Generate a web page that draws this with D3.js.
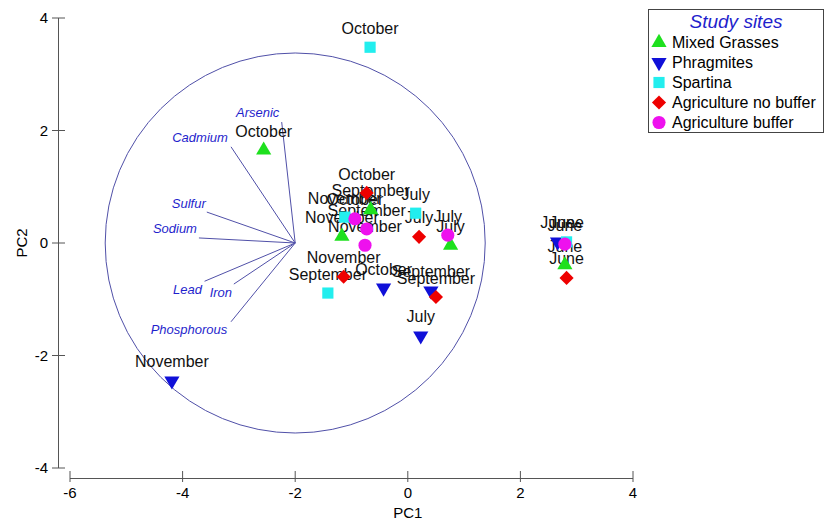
<!DOCTYPE html>
<meta charset="utf-8">
<script src="https://d3js.org/d3.v7.min.js"></script>
<style>
  body { margin: 0; background: #fff; }
  text { font-family: "Liberation Sans", Arial, sans-serif; }
</style>
<div id="my_dataviz"></div>
<script>

// PCA scores, one array per study site
var mixedGrasses = [
  {month: "October",   pc1: -2.56, pc2:  1.65},
  {month: "November",  pc1: -1.17, pc2:  0.12},
  {month: "September", pc1: -0.66, pc2:  0.59},
  {month: "July",      pc1:  0.76, pc2: -0.04},
  {month: "June",      pc1:  2.79, pc2: -0.39}
];
var phragmites = [
  {month: "November",  pc1: -4.19, pc2: -2.45},
  {month: "October",   pc1: -0.43, pc2: -0.80},
  {month: "September", pc1:  0.41, pc2: -0.85},
  {month: "July",      pc1:  0.23, pc2: -1.65},
  {month: "June",      pc1:  2.66, pc2:  0.02}
];
var spartina = [
  {month: "October",   pc1: -0.67, pc2:  3.48},
  {month: "November",  pc1: -1.12, pc2:  0.46},
  {month: "September", pc1: -1.42, pc2: -0.89},
  {month: "July",      pc1:  0.14, pc2:  0.53},
  {month: "June",      pc1:  2.82, pc2:  0.02}
];
var agNoBuffer = [
  {month: "October",   pc1: -0.73, pc2:  0.89},
  {month: "November",  pc1: -1.14, pc2: -0.60},
  {month: "July",      pc1:  0.20, pc2:  0.11},
  {month: "September", pc1:  0.50, pc2: -0.96},
  {month: "June",      pc1:  2.82, pc2: -0.62}
];
var agBuffer = [
  {month: "October",   pc1: -0.94, pc2:  0.43},
  {month: "September", pc1: -0.73, pc2:  0.25},
  {month: "November",  pc1: -0.76, pc2: -0.04},
  {month: "July",      pc1:  0.71, pc2:  0.14},
  {month: "June",      pc1:  2.79, pc2: -0.02}
];

var siteNames = ["Mixed Grasses", "Phragmites", "Spartina", "Agriculture no buffer", "Agriculture buffer"];

// variable vectors (end points, drawn from the biplot origin)
var variables = ["Arsenic", "Cadmium", "Sulfur", "Sodium", "Lead", "Iron", "Phosphorous"];
var varPC1 = [-2.24, -3.14, -3.57, -3.71, -3.61, -3.09, -3.14];
var varPC2 = [ 2.15,  1.71,  0.55,  0.09, -0.68, -0.73, -1.40];
var vecOrigin = [-2, 0];
var circleRadius = 3.375;

var xTicks = [-6, -4, -2, 0, 2, 4];
var yTicks = [-4, -2, 0, 2, 4];

var svg = d3.select("#my_dataviz")
  .append("svg")
    .attr("width", 829)
    .attr("height", 523);

var x = d3.scaleLinear().domain([-6, 4]).range([70, 633]);
var y = d3.scaleLinear().domain([-4, 4]).range([468, 18]);

var axisColor = "#555";
var xAxisY = 478;

// Y axis
svg.append("line")
  .attr("x1", 58.5).attr("x2", 58.5)
  .attr("y1", y(4)).attr("y2", y(-4))
  .attr("stroke", axisColor);
svg.selectAll("ytick").data(yTicks).enter().append("line")
  .attr("x1", 52).attr("x2", 65)
  .attr("y1", function(d) { return y(d); })
  .attr("y2", function(d) { return y(d); })
  .attr("stroke", axisColor);
svg.selectAll("ylab").data(yTicks).enter().append("text")
  .attr("x", 48)
  .attr("y", function(d) { return y(d); })
  .attr("dy", "0.35em")
  .attr("text-anchor", "end")
  .style("font-size", "15px")
  .text(function(d) { return d; });

// X axis
svg.append("line")
  .attr("x1", x(-6)).attr("x2", x(4))
  .attr("y1", xAxisY + 0.5).attr("y2", xAxisY + 0.5)
  .attr("stroke", axisColor);
svg.selectAll("xtick").data(xTicks).enter().append("line")
  .attr("x1", function(d) { return x(d); })
  .attr("x2", function(d) { return x(d); })
  .attr("y1", xAxisY - 7).attr("y2", xAxisY + 4)
  .attr("stroke", axisColor);
svg.selectAll("xlab").data(xTicks).enter().append("text")
  .attr("x", function(d) { return x(d); })
  .attr("y", 493)
  .attr("dy", "0.35em")
  .attr("text-anchor", "middle")
  .style("font-size", "15px")
  .text(function(d) { return d; });

svg.append("text")
  .attr("x", x(0)).attr("y", 513).attr("dy", "0.35em")
  .attr("text-anchor", "middle")
  .style("font-size", "15px")
  .text("PC1");
svg.append("text")
  .attr("transform", "translate(22," + y(0) + ")rotate(-90)")
  .attr("dy", "0.35em")
  .attr("text-anchor", "middle")
  .style("font-size", "15px")
  .text("PC2");

// correlation circle and vectors
var vecColor = "#5050a8";
svg.append("circle")
  .attr("cx", x(vecOrigin[0]))
  .attr("cy", y(vecOrigin[1]))
  .attr("r", x(circleRadius) - x(0))
  .attr("fill", "none")
  .attr("stroke", vecColor);

svg.selectAll("vec").data(variables).enter().append("line")
  .attr("x1", x(vecOrigin[0]))
  .attr("y1", y(vecOrigin[1]))
  .attr("x2", function(d, i) { return x(varPC1[i]); })
  .attr("y2", function(d, i) { return y(varPC2[i]); })
  .attr("stroke", vecColor);

// label offsets from vector tips, in pixels
var vecLabelOffset = [[-24, -10], [-31, -9], [-18, -9], [-24, -9], [-17, 8], [-13, 8], [-42, 8]];
svg.selectAll("veclab").data(variables).enter().append("text")
  .attr("x", function(d, i) { return x(varPC1[i]) + vecLabelOffset[i][0]; })
  .attr("y", function(d, i) { return y(varPC2[i]) + vecLabelOffset[i][1]; })
  .attr("dy", "0.35em")
  .attr("text-anchor", "middle")
  .style("font-size", "13px")
  .style("font-style", "italic")
  .attr("fill", "#1f1fcc")
  .text(function(d) { return d; });

// marker styles per site
var siteStyle = [
  {color: "#1ee01e", type: d3.symbolTriangle, size: 100, rot: 0},
  {color: "#1010d8", type: d3.symbolTriangle, size: 100, rot: 180},
  {color: "#22eeee", type: d3.symbolSquare, size: 125, rot: 0},
  {color: "#ee0000", type: d3.symbolSquare, size: 100, rot: 45},
  {color: "#ee11ee", type: d3.symbolCircle, size: 135, rot: 0}
];
var siteData = [mixedGrasses, phragmites, spartina, agNoBuffer, agBuffer];

// month labels first, markers drawn over them
siteData.forEach(function(data) {
  svg.selectAll("none").data(data).enter().append("text")
    .attr("x", function(d) { return x(d.pc1); })
    .attr("y", function(d) { return y(d.pc2) - 19; })
    .attr("dy", "0.35em")
    .attr("text-anchor", "middle")
    .style("font-size", "16px")
    .attr("fill", "#111")
    .text(function(d) { return d.month; });
});

siteData.forEach(function(data, i) {
  var s = siteStyle[i];
  svg.selectAll("none").data(data).enter().append("path")
    .attr("d", d3.symbol().type(s.type).size(s.size))
    .attr("transform", function(d) {
      return "translate(" + x(d.pc1) + "," + y(d.pc2) + ")rotate(" + s.rot + ")";
    })
    .attr("fill", s.color);
});

// legend
var lg = svg.append("g");
lg.append("rect")
  .attr("x", 648.5).attr("y", 9.5)
  .attr("width", 175).attr("height", 123)
  .attr("fill", "#fff")
  .attr("stroke", "#444");
lg.append("text")
  .attr("x", 736).attr("y", 21).attr("dy", "0.35em")
  .attr("text-anchor", "middle")
  .style("font-size", "19px")
  .style("font-style", "italic")
  .attr("fill", "#1f1fcc")
  .text("Study sites");
siteNames.forEach(function(name, i) {
  var s = siteStyle[i];
  var yy = 42.5 + i * 20;
  lg.append("path")
    .attr("d", d3.symbol().type(s.type).size(s.size))
    .attr("transform", "translate(659," + yy + ")rotate(" + s.rot + ")")
    .attr("fill", s.color);
  lg.append("text")
    .attr("x", 672).attr("y", yy).attr("dy", "0.35em")
    .style("font-size", "16px")
    .text(name);
});

</script>
